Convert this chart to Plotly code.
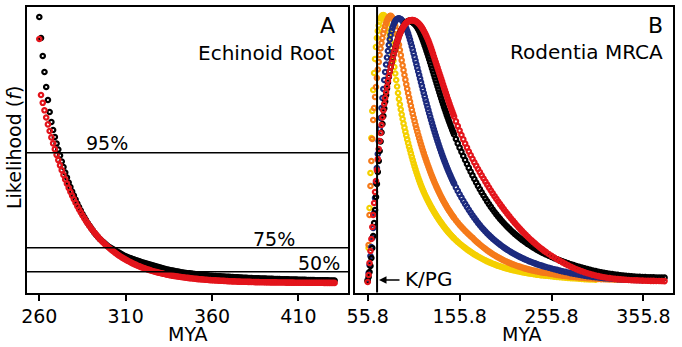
import plotly.graph_objects as go

# ---------------- Panel A: Echinoid root (one point per Myr) ----------------
mya_a = list(range(260, 432))

echinoid_black = [
    266, 245, 227, 211, 196, 183, 171, 161, 153, 146,
    139.5, 133.5, 127.5, 121.5, 116, 110.5, 105.5, 100.5, 96, 91.5,
    87.5, 83.5, 79.5, 76, 72.5, 69, 66, 63, 60, 57.5,
    55, 52.5, 50, 48, 46, 44, 42.5, 41, 39.5, 38,
    36.5, 35.5, 34.5, 33.5, 32.5, 31.5, 30.5, 29.5, 28.5, 27.5,
    26.7, 26, 25.3, 24.6, 24, 23.4, 22.8, 22.2, 21.6, 21,
    20.5, 20, 19.5, 19, 18.5, 18, 17.5, 17, 16.5, 16,
    15.5, 15, 14.5, 14, 13.5, 13.2, 12.8, 12.5, 12.1, 11.8,
    11.5, 11.1, 10.8, 10.5, 10.2, 10, 9.8, 9.6, 9.4, 9.2,
    9, 8.8, 8.6, 8.4, 8.2, 8, 7.8, 7.6, 7.4, 7.3,
    7.1, 7, 6.9, 6.8, 6.7, 6.6, 6.5, 6.4, 6.3, 6.2,
    6.1, 6, 5.9, 5.8, 5.7, 5.6, 5.5, 5.4, 5.3, 5.2,
    5.1, 5, 4.95, 4.9, 4.8, 4.75, 4.7, 4.6, 4.55, 4.5,
    4.4, 4.35, 4.3, 4.2, 4.15, 4.1, 4, 3.95, 3.9, 3.85,
    3.8, 3.75, 3.7, 3.65, 3.6, 3.55, 3.5, 3.45, 3.4, 3.35,
    3.3, 3.25, 3.2, 3.15, 3.1, 3.05, 3, 2.95, 2.9, 2.85,
    2.8, 2.78, 2.75, 2.72, 2.7, 2.67, 2.64, 2.6, 2.57, 2.54,
    2.52, 2.5,
]

echinoid_red = [
    244, 188.0, 180.2, 172.7, 165.5, 158.6, 152.0, 145.6, 139.6, 133.8,
    128.2, 122.9, 117.7, 112.8, 108.1, 103.6, 99.3, 95.2, 91.2, 87.4,
    83.8, 80.3, 76.9, 73.7, 70.7, 67.7, 64.9, 62.2, 59.6, 57.1,
    54.7, 52.5, 50.3, 48.2, 46.2, 44.2, 42.4, 40.6, 38.9, 37.3,
    35.8, 34.3, 32.8, 31.5, 30.2, 28.9, 27.7, 26.5, 25.4, 24.4,
    23.4, 22.4, 21.5, 20.6, 19.7, 18.9, 18.1, 17.3, 16.6, 15.9,
    15.3, 14.6, 14.0, 13.4, 12.9, 12.3, 11.8, 11.3, 10.9, 10.4,
    10.0, 9.6, 9.2, 8.8, 8.4, 8.1, 7.7, 7.4, 7.1, 6.8,
    6.5, 6.3, 6.0, 5.8, 5.5, 5.3, 5.1, 4.9, 4.7, 4.5,
    4.3, 4.1, 3.9, 3.8, 3.6, 3.5, 3.3, 3.2, 3.0, 2.9,
    2.8, 2.7, 2.6, 2.5, 2.4, 2.3, 2.2, 2.1, 2.0, 1.9,
    1.8, 1.7, 1.6, 1.6, 1.5, 1.4, 1.4, 1.3, 1.3, 1.2,
    1.2, 1.1, 1.1, 1.0, 1.0, 0.9, 0.9, 0.9, 0.8, 0.8,
    0.8, 0.7, 0.7, 0.7, 0.6, 0.6, 0.6, 0.6, 0.5, 0.5,
    0.5, 0.5, 0.5, 0.4, 0.4, 0.4, 0.4, 0.4, 0.3, 0.3,
    0.3, 0.3, 0.3, 0.3, 0.3, 0.2, 0.2, 0.2, 0.2, 0.2,
    0.2, 0.2, 0.2, 0.2, 0.2, 0.1, 0.1, 0.1, 0.1, 0.1,
    0.1, 0.1,
]

# confidence thresholds drawn across panel A (likelihood level)
thresholds = {"95%": 130.3, "75%": 35.3, "50%": 11.3}

# ---------------- Panel B: Rodentia MRCA ----------------
# sampling grid: 1 Myr steps near the mode, coarser in the tail
mya_b = ([round(55.8 + k, 1) for k in range(95)]
         + [round(151.8 + 2 * k, 1) for k in range(50)]
         + [round(252.8 + 3 * k, 1) for k in range(43)])

rodentia_yellow = [
    2, 35, 75, 110, 145, 172, 193, 210, 224, 236,
    245, 252, 257.5, 261.5, 264.5, 266.5, 267.7, 268, 267.5, 266,
    263.5, 260, 256, 251.5, 246.5, 241, 235, 229, 222.5, 216,
    209.5, 203, 196.5, 190, 184, 178.5, 173.5, 168.5, 164, 159.5,
    155.3, 151.3, 147.4, 143.6, 139.9, 136.3, 133, 129.6, 126.2, 122.9,
    119.7, 116.6, 113.6, 110.7, 107.9, 105.2, 102.6, 100.1, 97.7, 95.4,
    93.2, 91.1, 89, 87, 85.1, 83.2, 81.4, 79.6, 77.9, 76.2,
    74.6, 73, 71.4, 69.9, 68.4, 66.9, 65.5, 64.1, 62.7, 61.4,
    60.1, 58.8, 57.5, 56.3, 55.1, 53.9, 52.8, 51.7, 50.6, 49.5,
    48.5, 47.5, 46.5, 45.5, 44.6,
    42.8, 41.1, 39.5, 38, 36.5, 35.1, 33.7, 32.4, 31.1, 29.9,
    28.7, 27.6, 26.5, 25.5, 24.5, 23.5, 22.6, 21.7, 20.9, 20.1,
    19.3, 18.6, 17.9, 17.2, 16.6, 16, 15.4, 14.9, 14.4, 13.9,
    13.4, 12.9, 12.5, 12.1, 11.7, 11.3, 10.9, 10.5, 10.2, 9.9,
    9.6, 9.3, 9, 8.7, 8.4, 8.2, 7.9, 7.7, 7.5, 7.3,
    7, 6.7, 6.4, 6.1, 5.8, 5.5, 5.3, 5.1, 4.9, 4.7,
    4.5, 4.3, 4.1, 3.9, 3.7, 3.6, 3.5, 3.4,
]

rodentia_orange = [
    3, 38, 68, 97, 122, 144, 163, 175, 186, 196,
    205, 213.5, 221, 228, 234.5, 240, 245, 249.5, 253.5, 257,
    260, 262.5, 264.5, 266, 267, 267.3, 266.3, 265, 263, 260.2,
    256.8, 252.8, 248.3, 243.4, 238.2, 233, 227.8, 222.7, 217.7, 212.8,
    208, 203.3, 198.7, 194.2, 189.8, 185.5, 181.3, 177.2, 173.2, 169.3,
    165.5, 161.8, 158.2, 154.7, 151.3, 148, 144.8, 141.7, 138.6, 135.6,
    132.7, 129.8, 127, 124.3, 121.6, 119, 116.4, 113.9, 111.4, 109,
    106.7, 104.4, 102.2, 100, 97.9, 95.8, 93.8, 91.8, 89.9, 88,
    86.2, 84.4, 82.7, 81, 79.4, 77.8, 76.2, 74.7, 73.2, 71.8,
    70.4, 69, 67.7, 66.4, 65.1,
    62.7, 60.4, 58.2, 56.1, 54.1, 52.2, 50.4, 48.6, 46.9, 45.3,
    43.4, 41.7, 40.1, 38.5, 37, 35.5, 34.1, 32.7, 31.4, 30.1,
    28.9, 27.8, 26.7, 25.6, 24.6, 23.6, 22.7, 21.8, 21, 20.2,
    19.4, 18.7, 18, 17.3, 16.7, 16.1, 15.5, 14.9, 14.4, 13.9,
    13.4, 12.9, 12.5, 12.1, 11.7, 11.3, 10.9, 10.6, 10.3, 10,
    9.5, 9, 8.5, 8.1, 7.7, 7.3, 7, 6.7, 6.4, 6.1,
    5.8, 5.5, 5.3, 5.1, 4.9, 4.7, 4.5, 4.3, 4.1, 3.9,
    3.8, 3.7, 3.6, 3.5, 3.4, 3.3, 3.2,
]

rodentia_blue = [
    3, 10, 18, 27, 36, 45, 55, 70, 85, 100,
    115, 129, 142, 154, 165, 175, 185, 194, 203, 211,
    218.5, 225.5, 232, 238, 243.5, 248, 252, 255.3, 258, 260.2,
    261.9, 263.1, 264, 264.5, 264.6, 264.3, 263.8, 263, 261.9, 260.5,
    258.8, 256.8, 254.5, 252, 249.3, 246.4, 243.3, 240, 236.6, 233.1,
    229.5, 225.9, 222.3, 218.7, 215.1, 211.5, 207.9, 204.3, 200.7, 197.1,
    193.5, 190, 186.5, 183, 179.6, 176.2, 172.8, 169.5, 166.2, 163,
    159.8, 156.7, 153.6, 150.6, 147.6, 144.7, 141.8, 139, 136.2, 133.5,
    130.8, 128.2, 125.7, 123.2, 120.8, 118.4, 116.1, 113.8, 111.6, 109.4,
    107.3, 105.2, 103.2, 101.2, 99.3,
    95.6, 92.1, 88.7, 85.4, 82.2, 79.1, 76.1, 73.2, 70.4, 67.7,
    65.1, 62.6, 60.2, 57.9, 55.7, 53.6, 51.6, 49.7, 47.9, 46.1,
    44.4, 42.8, 41.3, 39.8, 38.4, 37, 35.7, 34.4, 33.2, 32,
    30.9, 29.8, 28.8, 27.8, 26.8, 25.9, 25, 24.1, 23.3, 22.5,
    21.7, 21, 20.3, 19.6, 18.9, 18.3, 17.7, 17.1, 16.5, 16,
    15.3, 14.5, 13.8, 13.1, 12.4, 11.7, 11.1, 10.5, 9.9, 9.3,
    8.8, 8.3, 7.8, 7.3, 6.9, 6.5, 6.1, 5.8, 5.5, 5.2,
    4.9, 4.7, 4.5, 4.3, 4.1, 3.9, 3.7, 3.5, 3.4, 3.3,
    3.2, 3.1, 3, 2.9, 2.8,
]

rodentia_black = [
    2, 6, 11, 17, 25, 35, 47, 60, 73, 86,
    99, 111, 122, 132, 141.5, 150.5, 159, 167, 174.5, 181.5,
    188, 194.5, 200.5, 206, 211.5, 216, 220.5, 224.5, 228.5, 232,
    235.5, 238.7, 241.7, 244.5, 247, 249.4, 251.6, 253.6, 255.4, 257,
    258.4, 259.6, 260.6, 261.4, 261.9, 262.2, 262.3, 262, 261.2, 260.6,
    259.9, 259, 258, 256.8, 255.4, 253.8, 252, 250, 247.8, 245.4,
    242.9, 240.3, 237.6, 234.9, 232.1, 229.3, 226.4, 223.5, 220.5, 217.5,
    214.5, 211.5, 208.5, 205.5, 202.5, 199.5, 196.5, 193.5, 190.5, 187.6,
    184.7, 181.8, 179, 176.2, 173.5, 170.8, 168.1, 165.5, 162.9, 160.4,
    157.9, 155.5, 153.1, 150.8, 148.5,
    144, 139.6, 135.3, 131.2, 127, 123, 119, 115.1, 111.3, 107.6,
    104, 100.5, 97.1, 93.8, 90.6, 87.5, 84.5, 81.6, 78.8, 76.1,
    73.5, 71, 68.6, 66.3, 64.1, 62, 60, 58, 56.1, 54.3,
    52.5, 50.8, 49.2, 47.6, 46.1, 44.6, 43.2, 41.8, 40.5, 39.2,
    38, 36.8, 35.6, 34.5, 33.4, 32.4, 31.4, 30.4, 29.5, 28.6,
    27.3, 26.1, 24.9, 23.8, 22.7, 21.7, 20.7, 19.7, 18.8, 17.9,
    17, 16.2, 15.4, 14.6, 13.9, 13.2, 12.5, 11.9, 11.3, 10.7,
    10.2, 9.7, 9.3, 8.9, 8.5, 8.1, 7.8, 7.5, 7.2, 6.9,
    6.7, 6.5, 6.3, 6.1, 6, 5.9, 5.8, 5.7, 5.6, 5.5,
    5.45, 5.4, 5.35,
]

rodentia_red = [
    1, 8, 20, 32, 44, 56, 68, 80, 91, 102,
    113, 124, 134, 142, 150, 158, 165.5, 172.5, 179, 185,
    191, 196.5, 202, 207, 211.5, 216, 220, 224, 228, 231.5,
    235, 238.2, 241.2, 244, 246.6, 249, 251.2, 253.2, 255, 256.6,
    258, 259.2, 260.2, 261, 261.7, 262.2, 262.6, 262.8, 262.9, 262.9,
    262.7, 262.4, 262, 261.4, 260.7, 259.9, 258.9, 257.8, 256.6, 255.3,
    253.8, 252.2, 250.5, 248.6, 246.6, 244.5, 242.3, 239.9, 237.4, 234.8,
    232.1, 229.3, 226.5, 223.7, 220.9, 218.1, 215.3, 212.5, 209.7, 206.9,
    204.1, 201.3, 198.5, 195.7, 192.9, 190.1, 187.3, 184.5, 181.8, 179.1,
    176.5, 173.9, 171.4, 168.9, 166.4,
    161.6, 156.9, 152.4, 148, 143.7, 139.5, 135.4, 131.5, 127.8, 124.2,
    120.7, 117.3, 114, 110.8, 107.6, 104.5, 101.4, 98.4, 95.4, 92.5,
    89.6, 86.8, 84.1, 81.5, 78.9, 76.4, 73.9, 71.5, 69.1, 66.8,
    64.5, 62.3, 60.1, 58, 55.9, 53.9, 51.9, 50, 48.1, 46.3,
    44.5, 42.8, 41.2, 39.6, 38, 36.5, 35, 33.6, 32.2, 30.9,
    29, 27.2, 25.5, 23.8, 22.2, 20.6, 19.1, 17.7, 16.3, 15,
    13.8, 12.7, 11.7, 10.7, 9.8, 9, 8.2, 7.5, 6.9, 6.3,
    5.8, 5.3, 4.9, 4.5, 4.2, 3.9, 3.6, 3.4, 3.2, 3,
    2.8, 2.7, 2.6, 2.5, 2.4, 2.3, 2.2, 2.15, 2.1, 2.05,
    2, 1.95, 1.9,
]

KPG_BOUNDARY = 66.0

xticks_a = [260, 310, 360, 410]
xticks_b = [55.8, 155.8, 255.8, 355.8]

RED = "#e3141b"
BLACK = "#000000"
YELLOW = "#f4d000"
ORANGE = "#f57a1a"
BLUE = "#1c2a7e"

FONT = "DejaVu Sans"
W, H = 682, 347


def dots(x, y, color, xa, ya):
    return go.Scatter(
        x=x[:len(y)], y=y, mode="markers", xaxis=xa, yaxis=ya,
        marker=dict(symbol="circle-open", size=4.4, color=color,
                    line=dict(width=2.2, color=color)),
        hoverinfo="skip", showlegend=False,
    )


fig = go.Figure()
fig.add_trace(dots(mya_a, echinoid_black, BLACK, "x", "y"))
fig.add_trace(dots(mya_a, echinoid_red, RED, "x", "y"))
for series, col in [(rodentia_yellow, YELLOW), (rodentia_orange, ORANGE),
                    (rodentia_blue, BLUE), (rodentia_black, BLACK),
                    (rodentia_red, RED)]:
    fig.add_trace(dots(mya_b, series, col, "x2", "y2"))

ydom = [1 - 292.5 / H, 1 - 6.5 / H]
yrange = [-9.5, 276.5]
frame = dict(showline=True, mirror=True, linewidth=2, linecolor="black",
             showgrid=False, zeroline=False, automargin=False)
tickstyle = dict(ticks="outside", ticklen=6, tickwidth=1.5, tickcolor="black",
                 tickfont=dict(family=FONT, size=19, color="black"))

fig.update_layout(
    width=W, height=H, margin=dict(l=0, r=0, t=0, b=0, pad=0),
    paper_bgcolor="white", plot_bgcolor="white",
    xaxis=dict(domain=[27 / W, 348 / W], range=[252.88, 438.75],
               tickvals=xticks_a, ticktext=[str(v) for v in xticks_a],
               anchor="y", **frame, **tickstyle),
    yaxis=dict(domain=ydom, range=yrange, showticklabels=False, ticks="",
               anchor="x", **frame),
    xaxis2=dict(domain=[355 / W, 673 / W], range=[41.98, 388.0],
                tickvals=xticks_b, ticktext=[f"{v:.1f}" for v in xticks_b],
                anchor="y2", **frame, **tickstyle),
    yaxis2=dict(domain=ydom, range=yrange, showticklabels=False, ticks="",
                anchor="x2", **frame),
)

# threshold lines in panel A
for label, level in thresholds.items():
    fig.add_shape(type="line", xref="x domain", yref="y", x0=0, x1=1,
                  y0=level, y1=level, line=dict(color="black", width=1.6),
                  layer="above")

# K/PG boundary in panel B
fig.add_shape(type="line", xref="x2", yref="y2 domain", x0=KPG_BOUNDARY,
              x1=KPG_BOUNDARY, y0=0, y1=1, line=dict(color="black", width=2),
              layer="above")


def px_x(px):
    return px / W


def px_y(py):
    return 1 - py / H


def note(text, x, y, size=19, xanchor="center", **kw):
    fig.add_annotation(text=text, x=x, y=y, xref="paper", yref="paper",
                       xanchor=xanchor, yanchor="middle", showarrow=False,
                       font=dict(family=FONT, size=size, color="black"), **kw)


note("A", px_x(337), px_y(25), size=22, xanchor="right")
note("Echinoid Root", px_x(337), px_y(53), size=20, xanchor="right")
note("B", px_x(665), px_y(25), size=22, xanchor="right")
note("Rodentia MRCA", px_x(665), px_y(52), size=20, xanchor="right")
note("95%", px_x(107), px_y(143.3))
note("75%", px_x(274), px_y(239))
note("50%", px_x(319), px_y(262.5))
note("MYA", px_x(188), px_y(334))
note("MYA", px_x(522), px_y(334))
note("Likelihood (<i>f</i>)", px_x(14), px_y(148), textangle=-90)
note("K/PG", px_x(403), px_y(279), size=20, xanchor="left")

# arrow pointing at the boundary line
fig.add_annotation(x=px_x(379), y=px_y(280), xref="paper", yref="paper",
                   ax=22, ay=0, axref="pixel", ayref="pixel",
                   text="", showarrow=True, arrowhead=2, arrowsize=1,
                   arrowwidth=1.5, arrowcolor="black")

fig.write_html("out.html")
